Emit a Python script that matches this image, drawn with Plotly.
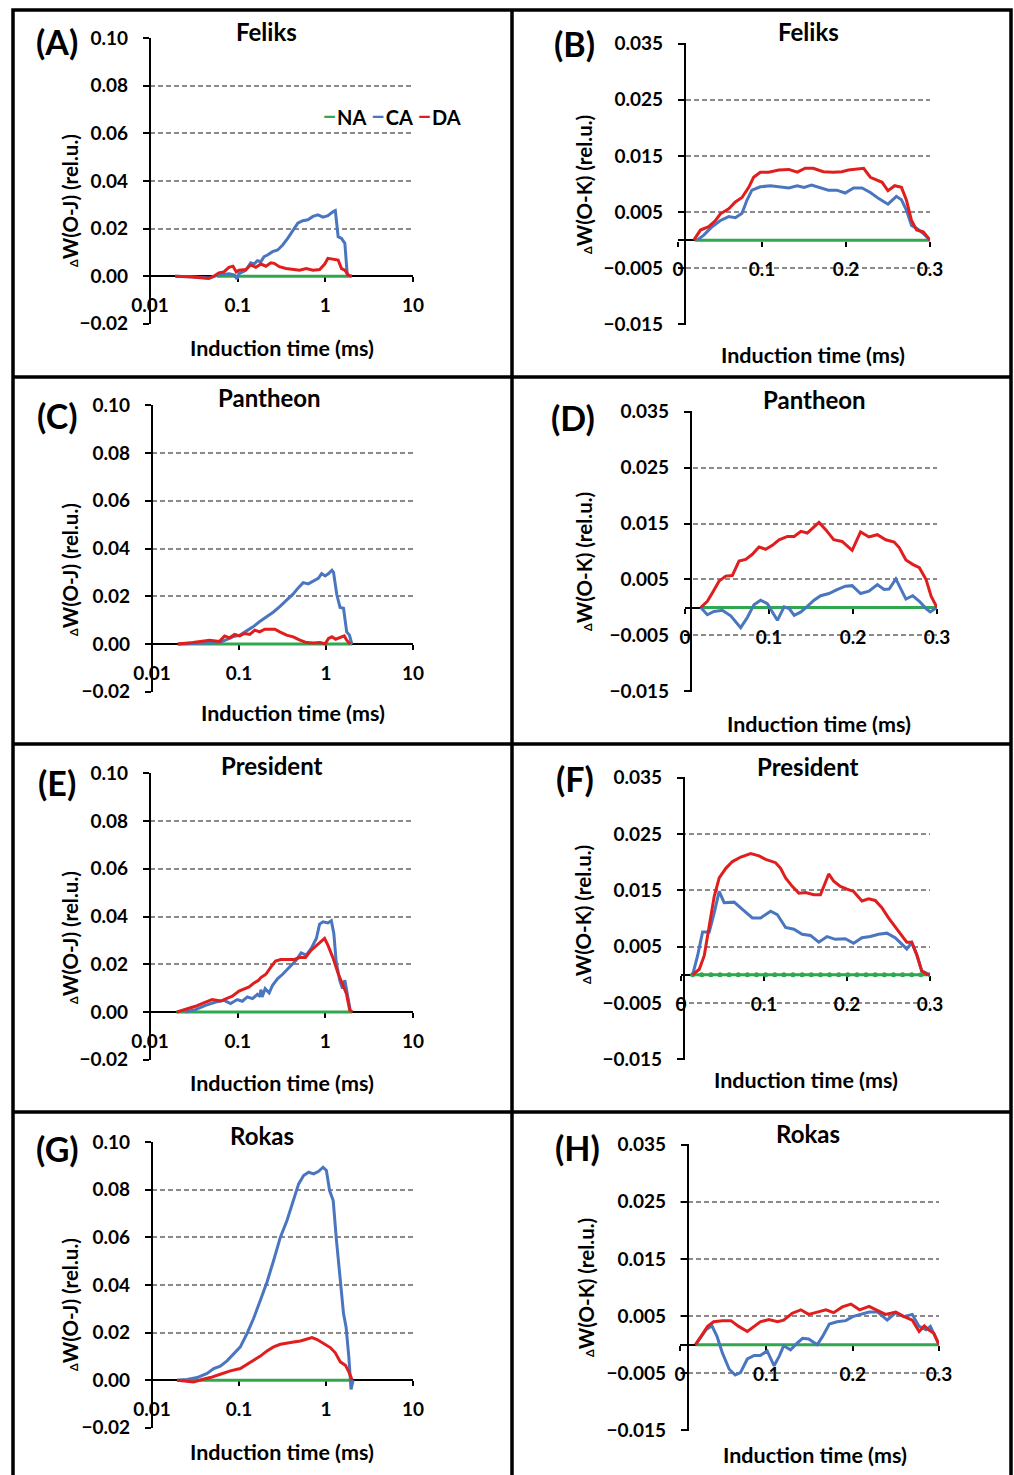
import plotly.graph_objects as go

W, H = 1014, 1475
FONT = "Lato"
COL_NA = "#2fa84f"
COL_CA = "#4a76bf"
COL_DA = "#e01e1e"

# ---------------- data: left panels (log time axis, dW(O-J)) ----------------
A_NA_X = [0.058, 2.0]
A_NA_Y = [0, 0]
A_CA_X = [0.0194, 0.03, 0.047, 0.06, 0.08, 0.092, 0.098, 0.1036, 0.1236, 0.141, 0.154, 0.168, 0.184, 0.20, 0.219,
          0.25, 0.286, 0.326, 0.372, 0.425, 0.485, 0.553, 0.632, 0.722, 0.823, 0.94, 1.07, 1.23, 1.30, 1.40, 1.53,
          1.67, 1.78, 1.83]
A_CA_Y = [0, -0.0002, -0.0008, 0.0005, 0.001, 0.0005, -0.0012, 0.0011, 0.0025, 0.0056, 0.0051, 0.0065, 0.0061,
          0.0082, 0.0089, 0.0103, 0.011, 0.0131, 0.0159, 0.0192, 0.0223, 0.0233, 0.0237, 0.0251, 0.0258, 0.0248,
          0.0254, 0.0272, 0.0276, 0.0166, 0.0159, 0.0138, 0.0004, 0]
A_DA_X = [0.0194, 0.0301, 0.0468, 0.0535, 0.061, 0.0696, 0.0795, 0.0884, 0.0965, 0.1036, 0.1236, 0.141, 0.161,
          0.184, 0.210, 0.239, 0.261, 0.299, 0.356, 0.425, 0.508, 0.605, 0.722, 0.862, 0.984, 1.07, 1.23, 1.40,
          1.53, 1.67, 1.83, 2.0]
A_DA_Y = [0, -0.0003, -0.001, 0, 0.0014, 0.0018, 0.0037, 0.0042, 0.0018, 0.0025, 0.0028, 0.0047, 0.0037, 0.0051,
          0.0042, 0.0056, 0.0054, 0.004, 0.0032, 0.0028, 0.0025, 0.0032, 0.0025, 0.0028, 0.0051, 0.0075, 0.0072,
          0.0068, 0.0032, 0.0025, 0.0004, 0]

C_NA_X = [0.02, 2.0]
C_NA_Y = [0, 0]
C_CA_X = [0.0198, 0.035, 0.06, 0.085, 0.1018, 0.121, 0.145, 0.173, 0.207, 0.247, 0.294, 0.352, 0.420, 0.479, 0.547,
          0.625, 0.713, 0.815, 0.892, 0.977, 1.07, 1.17, 1.22, 1.33, 1.45, 1.59, 1.73, 1.86, 1.98]
C_CA_Y = [0, 0.0003, 0.0006, 0.003, 0.0037, 0.0054, 0.0072, 0.0094, 0.0112, 0.0133, 0.0157, 0.0183, 0.021, 0.0235,
          0.0257, 0.0252, 0.0264, 0.0275, 0.0295, 0.0285, 0.0295, 0.0309, 0.03, 0.0207, 0.0153, 0.015, 0.0051,
          0.0037, 0]
C_DA_X = [0.0198, 0.0295, 0.0459, 0.0598, 0.0683, 0.078, 0.089, 0.1018, 0.116, 0.133, 0.152, 0.173, 0.198, 0.226,
          0.258, 0.294, 0.352, 0.420, 0.501, 0.598, 0.713, 0.85, 0.977, 1.07, 1.17, 1.29, 1.45, 1.62, 1.73, 1.89]
C_DA_Y = [0, 0.0006, 0.0016, 0.0011, 0.0034, 0.0026, 0.004, 0.0034, 0.0044, 0.004, 0.0058, 0.0051, 0.0062, 0.0062,
          0.0062, 0.0051, 0.0037, 0.003, 0.0016, 0.0006, 0.0004, 0.0006, 0.0001, 0.0023, 0.003, 0.002, 0.0026,
          0.0034, 0.0016, 0]

E_NA_X = [0.02, 2.0]
E_NA_Y = [0, 0]
E_CA_X = [0.0253, 0.033, 0.043, 0.056, 0.07, 0.083, 0.099, 0.113, 0.129, 0.148, 0.168, 0.18, 0.184, 0.19, 0.206,
          0.229, 0.25, 0.286, 0.326, 0.389, 0.464, 0.53, 0.605, 0.69, 0.79, 0.86, 0.94, 1.07, 1.17, 1.25, 1.33,
          1.46, 1.57, 1.67, 1.74, 1.83, 1.94]
E_CA_Y = [0, 0.001, 0.0028, 0.0042, 0.0049, 0.0035, 0.0052, 0.0045, 0.0063, 0.0056, 0.0074, 0.0065, 0.0094,
          0.0063, 0.0098, 0.008, 0.0112, 0.014, 0.0158, 0.0189, 0.0217, 0.0248, 0.0238, 0.0266, 0.0308, 0.0368,
          0.0378, 0.0373, 0.0382, 0.0329, 0.021, 0.0133, 0.0098, 0.0133, 0.0098, 0.0049, 0]
E_DA_X = [0.0203, 0.0253, 0.033, 0.041, 0.0512, 0.0638, 0.076, 0.0868, 0.1036, 0.118, 0.135, 0.154, 0.173, 0.184,
          0.21, 0.24, 0.27, 0.31, 0.372, 0.444, 0.508, 0.594, 0.69, 0.82, 0.98, 1.07, 1.23, 1.40, 1.6, 1.74, 1.9,
          2.05]
E_DA_Y = [0, 0.001, 0.0024, 0.0038, 0.0052, 0.0046, 0.0056, 0.0066, 0.0088, 0.0098, 0.0105, 0.0122, 0.0133,
          0.0144, 0.0158, 0.0189, 0.0213, 0.022, 0.022, 0.022, 0.0228, 0.0228, 0.0259, 0.0284, 0.0308, 0.028,
          0.0224, 0.0161, 0.0112, 0.0077, 0.0007, 0]

G_NA_X = [0.02, 2.0]
G_NA_Y = [0, 0]
G_CA_X = [0.0194, 0.0253, 0.033, 0.043, 0.0512, 0.061, 0.0728, 0.0868, 0.1036, 0.1236, 0.147, 0.176, 0.21, 0.25,
          0.299, 0.356, 0.425, 0.485, 0.553, 0.632, 0.722, 0.823, 0.925, 1.01, 1.1, 1.21, 1.32, 1.45, 1.59, 1.7,
          1.83, 1.94, 2.05]
G_CA_Y = [0, 0.0003, 0.0011, 0.0028, 0.0049, 0.0059, 0.0081, 0.0109, 0.014, 0.0196, 0.0259, 0.0336, 0.0413,
          0.0503, 0.0601, 0.0671, 0.0755, 0.0825, 0.086, 0.0874, 0.0867, 0.0878, 0.0895, 0.0881, 0.0797, 0.0755,
          0.0587, 0.0434, 0.028, 0.0224, 0.0098, -0.0039, 0]
G_DA_X = [0.0194, 0.0253, 0.030, 0.0376, 0.0468, 0.061, 0.0795, 0.1036, 0.1236, 0.147, 0.176, 0.21, 0.25, 0.299,
          0.356, 0.425, 0.508, 0.605, 0.69, 0.79, 0.94, 1.12, 1.28, 1.46, 1.67, 1.83, 2.0]
G_DA_Y = [0, -0.0006, -0.0008, 0.0003, 0.0011, 0.0025, 0.0039, 0.0049, 0.0067, 0.0081, 0.0101, 0.0123, 0.014,
          0.0151, 0.0154, 0.016, 0.0165, 0.0174, 0.0179, 0.0171, 0.0154, 0.0137, 0.0115, 0.0077, 0.0063, 0.0035, 0]

# ---------------- data: right panels (linear time axis, dW(O-K)) ----------------
B_NA_X = [0.02, 0.3]
B_NA_Y = [0, 0]
B_CA_X = [0.0228, 0.0307, 0.0406, 0.0505, 0.0604, 0.0683, 0.0762, 0.082, 0.088, 0.098, 0.11, 0.122, 0.132, 0.142,
          0.15, 0.159, 0.169, 0.179, 0.189, 0.199, 0.209, 0.219, 0.229, 0.239, 0.25, 0.26, 0.266, 0.272, 0.278,
          0.284, 0.292, 0.3]
B_CA_Y = [0, 0.0009, 0.0024, 0.0035, 0.0042, 0.004, 0.0048, 0.0071, 0.0089, 0.0095, 0.0097, 0.0095, 0.0093,
          0.0097, 0.0094, 0.0098, 0.0093, 0.0089, 0.0089, 0.0084, 0.0093, 0.0093, 0.0085, 0.0074, 0.0064, 0.0078,
          0.0072, 0.0053, 0.0026, 0.0021, 0.0012, 0]
B_DA_X = [0.0188, 0.0267, 0.0366, 0.0446, 0.0505, 0.0604, 0.0683, 0.0762, 0.0842, 0.090, 0.098, 0.108, 0.12,
          0.132, 0.142, 0.1515, 0.161, 0.173, 0.185, 0.195, 0.203, 0.213, 0.221, 0.229, 0.237, 0.243, 0.25, 0.258,
          0.266, 0.272, 0.278, 0.284, 0.292, 0.296, 0.3]
B_DA_Y = [0, 0.0018, 0.0024, 0.0035, 0.0047, 0.0056, 0.0068, 0.0076, 0.0094, 0.0112, 0.0121, 0.0121, 0.0125,
          0.0126, 0.0121, 0.0128, 0.0128, 0.0122, 0.0121, 0.0122, 0.0125, 0.0126, 0.0128, 0.0112, 0.0107, 0.0103,
          0.0088, 0.0097, 0.0094, 0.0071, 0.0035, 0.0018, 0.0015, 0.0007, 0]

D_NA_X = [0.0187, 0.3]
D_NA_Y = [0, 0]
D_CA_X = [0.0187, 0.0266, 0.0345, 0.0444, 0.0544, 0.0663, 0.0742, 0.0821, 0.09, 0.098, 0.104, 0.11, 0.118, 0.124,
          0.13, 0.138, 0.1456, 0.1536, 0.1615, 0.1714, 0.181, 0.191, 0.199, 0.209, 0.219, 0.229, 0.237, 0.243,
          0.251, 0.257, 0.263, 0.271, 0.279, 0.287, 0.292, 0.298, 0.3]
D_CA_Y = [0, -0.0013, -0.0007, -0.0005, -0.0015, -0.0036, -0.0018, 0.0005, 0.0013, 0.0007, -0.0008, -0.0023,
          0.0001, -0.0002, -0.0014, -0.0008, 0.0002, 0.0013, 0.0021, 0.0025, 0.0032, 0.0038, 0.0039, 0.0025, 0.0029,
          0.0041, 0.0032, 0.0033, 0.0051, 0.0032, 0.0015, 0.0021, 0.0011, -0.0002, -0.0008, -0.0002, 0]
D_DA_X = [0.0187, 0.0266, 0.0325, 0.0405, 0.0484, 0.0563, 0.0643, 0.0722, 0.0802, 0.0881, 0.096, 0.104, 0.112,
          0.122, 0.13, 0.138, 0.1456, 0.1516, 0.1595, 0.1675, 0.177, 0.187, 0.193, 0.199, 0.209, 0.219, 0.229,
          0.239, 0.249, 0.255, 0.263, 0.271, 0.279, 0.287, 0.293, 0.3]
D_DA_Y = [0, 0.0011, 0.0026, 0.0047, 0.0056, 0.0057, 0.0083, 0.0086, 0.0095, 0.0108, 0.0104, 0.0111, 0.0121,
          0.0127, 0.0127, 0.0136, 0.0133, 0.0142, 0.0152, 0.0139, 0.0121, 0.0118, 0.011, 0.0102, 0.0135, 0.0126,
          0.013, 0.0121, 0.0117, 0.0107, 0.0085, 0.0077, 0.0071, 0.005, 0.002, 0]

F_NA_X = [0.014, 0.025, 0.036, 0.047, 0.058, 0.069, 0.08, 0.091, 0.102, 0.113, 0.124, 0.135, 0.146, 0.157, 0.168,
          0.179, 0.19, 0.201, 0.212, 0.223, 0.234, 0.245, 0.256, 0.267, 0.278, 0.289, 0.3]
F_NA_Y = [0, 0, 0, 0, 0, 0, 0, 0, 0, 0, 0, 0, 0, 0, 0, 0, 0, 0, 0, 0, 0, 0, 0, 0, 0, 0, 0]
F_CA_X = [0.014, 0.02, 0.026, 0.034, 0.04, 0.046, 0.052, 0.058, 0.064, 0.074, 0.086, 0.096, 0.108, 0.116, 0.126,
          0.136, 0.146, 0.156, 0.166, 0.176, 0.186, 0.198, 0.208, 0.218, 0.228, 0.238, 0.248, 0.258, 0.266, 0.272,
          0.278, 0.284, 0.29, 0.3]
F_CA_Y = [0, 0.0034, 0.0076, 0.0076, 0.011, 0.0148, 0.0128, 0.0128, 0.0129, 0.0116, 0.0101, 0.0101, 0.0113,
          0.0107, 0.0084, 0.0081, 0.0072, 0.007, 0.0058, 0.0068, 0.0063, 0.0064, 0.0056, 0.0066, 0.0068, 0.0072,
          0.0074, 0.0066, 0.0054, 0.0046, 0.0057, 0.0036, 0.0007, 0]
F_DA_X = [0.014, 0.022, 0.028, 0.034, 0.04, 0.046, 0.054, 0.062, 0.072, 0.084, 0.094, 0.102, 0.114, 0.12, 0.126,
          0.134, 0.142, 0.15, 0.16, 0.168, 0.174, 0.178, 0.184, 0.192, 0.2, 0.208, 0.218, 0.226, 0.234, 0.242, 0.25,
          0.258, 0.266, 0.272, 0.278, 0.284, 0.29, 0.296, 0.3]
F_DA_Y = [0, 0.001, 0.0034, 0.0086, 0.0139, 0.0172, 0.0189, 0.0201, 0.0209, 0.0215, 0.0211, 0.0205, 0.0199,
          0.0189, 0.0172, 0.0157, 0.0145, 0.0146, 0.0142, 0.0142, 0.0163, 0.0179, 0.0166, 0.0157, 0.0152, 0.0148,
          0.0131, 0.0135, 0.0132, 0.0119, 0.0101, 0.0086, 0.0069, 0.0058, 0.0058, 0.0036, 0.0007, 0.0001, 0]

H_NA_X = [0.018, 0.3]
H_NA_Y = [0, 0]
H_CA_X = [0.018, 0.022, 0.03, 0.037, 0.043, 0.049, 0.057, 0.064, 0.07, 0.078, 0.086, 0.093, 0.101, 0.109, 0.115,
          0.12, 0.128, 0.136, 0.142, 0.149, 0.159, 0.165, 0.173, 0.182, 0.192, 0.2, 0.209, 0.219, 0.229, 0.24, 0.25,
          0.259, 0.269, 0.277, 0.285, 0.29, 0.3]
H_CA_Y = [0, 0.0009, 0.0026, 0.0033, 0.0014, -0.0014, -0.0043, -0.0053, -0.0049, -0.0025, -0.0019, -0.0019,
          -0.0011, -0.0037, -0.002, -0.0002, -0.0009, 0.0003, 0.0011, 0.001, 0, 0.0014, 0.0036, 0.004, 0.0042,
          0.0049, 0.0053, 0.0057, 0.0057, 0.0043, 0.0056, 0.0049, 0.0053, 0.0032, 0.0026, 0.0032, 0]
H_DA_X = [0.018, 0.024, 0.032, 0.039, 0.049, 0.059, 0.068, 0.078, 0.086, 0.093, 0.103, 0.113, 0.12, 0.13, 0.14,
          0.149, 0.159, 0.169, 0.178, 0.188, 0.198, 0.208, 0.219, 0.229, 0.238, 0.25, 0.261, 0.269, 0.277, 0.283,
          0.288, 0.294, 0.3]
H_DA_Y = [0, 0.0014, 0.0032, 0.004, 0.0042, 0.0042, 0.0032, 0.0023, 0.0032, 0.004, 0.0044, 0.004, 0.0043, 0.0055,
          0.0061, 0.0053, 0.0057, 0.0061, 0.0056, 0.0066, 0.0071, 0.0061, 0.0067, 0.006, 0.0053, 0.0057, 0.0048,
          0.0043, 0.0023, 0.0033, 0.0026, 0.002, 0]

# ---------------- axis ticks / labels ----------------
LOG_TICKS = [0.01, 0.1, 1, 10]
LOG_LABELS = ["0.01", "0.1", "1", "10"]
LIN_TICKS = [0, 0.1, 0.2, 0.3]
LIN_LABELS = ["0", "0.1", "0.2", "0.3"]
OJ_TICKS = [-0.02, 0.0, 0.02, 0.04, 0.06, 0.08, 0.10]
OK_TICKS = [-0.015, -0.005, 0.005, 0.015, 0.025, 0.035]

SERIES_NAMES = ["NA", "CA", "DA"]
CULTIVARS = ["Feliks", "Pantheon", "President", "Rokas"]
X_TITLE = "Induction time (ms)"
Y_TITLE_OJ = "W(O-J) (rel.u.)"
Y_TITLE_OK = "W(O-K) (rel.u.)"

# ---------------- panel layout (pixels) ----------------
PANELS = [
    dict(key="A", kind="OJ", title=CULTIVARS[0], data=(A_NA_X, A_NA_Y, A_CA_X, A_CA_Y, A_DA_X, A_DA_Y),
         x0=150, x1=413, yax=150, ytop=38, ybot=324, lab=(57, 41), tit=(266, 31), xt=(282, 348), yt=(70, 201)),
    dict(key="B", kind="OK", title=CULTIVARS[0], data=(B_NA_X, B_NA_Y, B_CA_X, B_CA_Y, B_DA_X, B_DA_Y),
         x0=678, x1=930, yax=685, ytop=43, ybot=325, lab=(574, 44), tit=(808, 32), xt=(813, 355), yt=(584, 185)),
    dict(key="C", kind="OJ", title=CULTIVARS[1], data=(C_NA_X, C_NA_Y, C_CA_X, C_CA_Y, C_DA_X, C_DA_Y),
         x0=152, x1=413, yax=152, ytop=405, ybot=692, lab=(57, 415), tit=(269, 398), xt=(293, 713), yt=(70, 570)),
    dict(key="D", kind="OK", title=CULTIVARS[1], data=(D_NA_X, D_NA_Y, D_CA_X, D_CA_Y, D_DA_X, D_DA_Y),
         x0=685, x1=937, yax=691, ytop=411, ybot=692, lab=(573, 418), tit=(814, 400), xt=(819, 724), yt=(584, 562)),
    dict(key="E", kind="OJ", title=CULTIVARS[2], data=(E_NA_X, E_NA_Y, E_CA_X, E_CA_Y, E_DA_X, E_DA_Y),
         x0=150, x1=413, yax=150, ytop=773, ybot=1060, lab=(57, 782), tit=(272, 765), xt=(282, 1083), yt=(70, 938)),
    dict(key="F", kind="OK", title=CULTIVARS[2], data=(F_NA_X, F_NA_Y, F_CA_X, F_CA_Y, F_DA_X, F_DA_Y),
         x0=681, x1=930, yax=684, ytop=777, ybot=1060, lab=(575, 778), tit=(808, 766), xt=(806, 1080), yt=(583, 915)),
    dict(key="G", kind="OJ", title=CULTIVARS[3], data=(G_NA_X, G_NA_Y, G_CA_X, G_CA_Y, G_DA_X, G_DA_Y),
         x0=152, x1=413, yax=152, ytop=1142, ybot=1428, lab=(57, 1148), tit=(262, 1135), xt=(282, 1452), yt=(70, 1305)),
    dict(key="H", kind="OK", title=CULTIVARS[3], data=(H_NA_X, H_NA_Y, H_CA_X, H_CA_Y, H_DA_X, H_DA_Y),
         x0=680, x1=939, yax=688, ytop=1144, ybot=1431, lab=(577, 1147), tit=(808, 1133), xt=(815, 1455), yt=(586, 1288)),
]


def px(x):
    return x / W


def py(y):
    return 1 - y / H


fig = go.Figure()
annotations = []
bold = dict(family=FONT, color="black", weight="bold")
LW = 3

for i, p in enumerate(PANELS):
    n = "" if i == 0 else str(i + 1)
    xa, ya = "x" + n, "y" + n
    na_x, na_y, ca_x, ca_y, da_x, da_y = p["data"]
    na_mode = "lines+markers" if p["key"] == "F" else "lines"
    fig.add_trace(go.Scatter(x=na_x, y=na_y, mode=na_mode, name=SERIES_NAMES[0], xaxis=xa, yaxis=ya,
                             line=dict(color=COL_NA, width=LW), marker=dict(size=5, color=COL_NA),
                             showlegend=False))
    fig.add_trace(go.Scatter(x=ca_x, y=ca_y, mode="lines", name=SERIES_NAMES[1], xaxis=xa, yaxis=ya,
                             line=dict(color=COL_CA, width=LW), showlegend=False))
    fig.add_trace(go.Scatter(x=da_x, y=da_y, mode="lines", name=SERIES_NAMES[2], xaxis=xa, yaxis=ya,
                             line=dict(color=COL_DA, width=LW), showlegend=False))

    if p["kind"] == "OJ":
        ymin, ymax = -0.02, 0.10
        xaxis = dict(type="log", range=[-2, 1], tickvals=LOG_TICKS, ticktext=LOG_LABELS)
        yaxis = dict(range=[-0.0201, 0.1001], tickvals=OJ_TICKS, tickformat=".2f")
        ytitle = Y_TITLE_OJ
    else:
        ymin, ymax = -0.015, 0.035
        xaxis = dict(type="linear", range=[0, 0.3], tickvals=LIN_TICKS, ticktext=LIN_LABELS)
        yaxis = dict(range=[-0.0151, 0.0351], tickvals=OK_TICKS, tickformat=".3f")
        ytitle = Y_TITLE_OK

    y0_px = p["ytop"] + (ymax - 0) / (ymax - ymin) * (p["ybot"] - p["ytop"])
    xaxis.update(domain=[px(p["x0"]), px(p["x1"])], anchor="free", position=py(y0_px),
                 showline=True, linecolor="black", linewidth=2.2, showgrid=False, zeroline=False,
                 ticks="outside", ticklen=5, tickwidth=2, tickcolor="black", layer="below traces",
                 tickfont=dict(size=19, **bold), ticklabelstandoff=7, automargin=False)
    yaxis.update(domain=[py(p["ybot"]), py(p["ytop"])], anchor="free", position=px(p["yax"]),
                 showline=True, linecolor="black", linewidth=2.2, zeroline=False,
                 showgrid=True, gridcolor="#8a8a8a", gridwidth=1.5, griddash="5px,3px",
                 ticks="outside", ticklen=6, tickwidth=2, tickcolor="black", layer="below traces",
                 tickfont=dict(size=19, **bold), ticklabelstandoff=11, automargin=False)
    fig.update_layout({"xaxis" + n: xaxis, "yaxis" + n: yaxis})

    annotations += [
        dict(text="(" + p["key"] + ")", x=px(p["lab"][0]), y=py(p["lab"][1]), xref="paper", yref="paper",
             showarrow=False, xanchor="center", yanchor="middle", font=dict(size=34, **bold)),
        dict(text=p["title"], x=px(p["tit"][0]), y=py(p["tit"][1]), xref="paper", yref="paper",
             showarrow=False, xanchor="center", yanchor="middle", font=dict(size=24, **bold)),
        dict(text=X_TITLE, x=px(p["xt"][0]), y=py(p["xt"][1]), xref="paper", yref="paper",
             showarrow=False, xanchor="center", yanchor="middle", font=dict(size=21.5, **bold)),
        dict(text="<span style='font-size:11px'>Δ</span>" + ytitle, x=px(p["yt"][0]), y=py(p["yt"][1]),
             xref="paper", yref="paper", textangle=-90,
             showarrow=False, xanchor="center", yanchor="middle", font=dict(size=20.5, **bold)),
    ]

# legend (panel A), drawn as colored dash glyphs + series names
legend_text = "".join(
    "<span style='color:%s;font-size:26px'>–</span>%s " % (c, s)
    for c, s in zip((COL_NA, COL_CA, COL_DA), SERIES_NAMES)
).strip()
annotations.append(dict(text=legend_text, x=px(391), y=py(115), xref="paper", yref="paper", showarrow=False,
                        xanchor="center", yanchor="middle", font=dict(size=20, **bold)))

# panel frame lines
shapes = [dict(type="rect", xref="paper", yref="paper", x0=px(13), x1=px(1011), y0=py(1478), y1=py(10),
               line=dict(color="black", width=3.5))]
shapes.append(dict(type="line", xref="paper", yref="paper", x0=px(512), x1=px(512), y0=py(1478), y1=py(10),
                   line=dict(color="black", width=3.5)))
for yy in (377, 744, 1112):
    shapes.append(dict(type="line", xref="paper", yref="paper", x0=px(13), x1=px(1011), y0=py(yy), y1=py(yy),
                       line=dict(color="black", width=3.5)))

fig.update_layout(width=W, height=H, margin=dict(l=0, r=0, t=0, b=0), paper_bgcolor="white",
                  plot_bgcolor="white", showlegend=False, annotations=annotations, shapes=shapes,
                  font=dict(family=FONT, color="black"))

fig.write_html("out.html")
